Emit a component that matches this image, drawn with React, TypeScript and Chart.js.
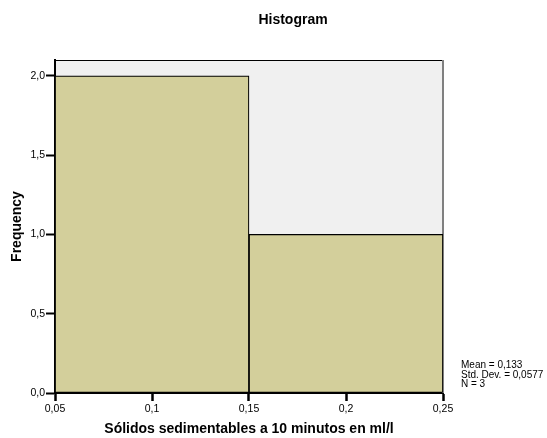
import React, { useEffect, useRef } from "react";
import { Chart, registerables } from "chart.js";

Chart.register(...registerables);

// ---- data ----
const binCenters = [0.1, 0.2];
const frequencies = [2, 1];
const xTickValues = [0.05, 0.1, 0.15, 0.2, 0.25];
const xTickLabels = ["0,05", "0,1", "0,15", "0,2", "0,25"];
const yTickValues = [0, 0.5, 1, 1.5, 2];
const yTickLabels = ["0,0", "0,5", "1,0", "1,5", "2,0"];
const chartTitle = "Histogram";
const xTitle = "Sólidos sedimentables a 10 minutos en ml/l";
const yTitle = "Frequency";
const statsLines = ["Mean = 0,133", "Std. Dev. = 0,0577", "N = 3"];

const FONT = "'Liberation Sans', Arial, Helvetica, sans-serif";

const decorPlugin = {
  id: "decor",
  beforeDraw(chart: any) {
    const { ctx, chartArea } = chart;
    ctx.save();
    ctx.fillStyle = "#F0F0F0";
    ctx.fillRect(chartArea.left, chartArea.top, chartArea.right - chartArea.left, chartArea.bottom - chartArea.top);
    ctx.restore();
  },
  beforeDatasetsDraw(chart: any) {
    const { ctx, chartArea } = chart;
    ctx.save();
    ctx.strokeStyle = "#000";
    ctx.lineWidth = 1;
    ctx.beginPath();
    ctx.moveTo(chartArea.left, chartArea.top + 0.5);
    ctx.lineTo(chartArea.right, chartArea.top + 0.5);
    ctx.stroke();
    ctx.strokeStyle = "#808080";
    ctx.lineWidth = 2;
    ctx.beginPath();
    ctx.moveTo(chartArea.right, chartArea.top);
    ctx.lineTo(chartArea.right, chartArea.bottom);
    ctx.stroke();
    ctx.restore();
  },
  afterDraw(chart: any) {
    const { ctx } = chart;
    ctx.save();
    ctx.fillStyle = "#000";
    ctx.textAlign = "center";
    ctx.textBaseline = "middle";
    ctx.font = `bold 14px ${FONT}`;
    ctx.fillText(chartTitle, 293, 20);
    ctx.textAlign = "left";
    ctx.font = `10px ${FONT}`;
    statsLines.forEach((l, i) => ctx.fillText(l, 461, 365.5 + i * 9.5));
    ctx.restore();
  },
};

export default function App() {
  const ref = useRef<HTMLCanvasElement>(null);
  useEffect(() => {
    if (!ref.current) return;
    const chart = new Chart(ref.current, {
      type: "bar",
      data: {
        datasets: [
          {
            data: binCenters.map((x, i) => ({ x, y: frequencies[i] })),
            backgroundColor: "#D3CF9B",
            borderColor: "#000",
            borderWidth: 1.2,
            borderSkipped: false,
            barPercentage: 1,
            categoryPercentage: 1,
            xAxisID: "x",
          },
        ],
      },
      options: {
        responsive: false,
        animation: false,
        devicePixelRatio: 1,
        layout: { padding: { left: 0, right: 104, top: 60, bottom: 0 } },
        plugins: { legend: { display: false }, tooltip: { enabled: false }, title: { display: false } },
        scales: {
          x: {
            type: "linear",
            display: false,
            min: 0.05,
            max: 0.25,
            offset: false,
            grid: { offset: false },
            afterBuildTicks: (s: any) => {
              s.ticks = [];
            },
          },
          xTicks: {
            type: "linear",
            position: "bottom",
            min: 0.05,
            max: 0.25,
            offset: false,
            afterBuildTicks: (s: any) => {
              s.ticks = xTickValues.map((v) => ({ value: v }));
            },
            afterFit: (s: any) => {
              s.height = 45;
            },
            ticks: {
              autoSkip: false,
              maxRotation: 0,
              padding: 2,
              color: "#000",
              font: { family: FONT, size: 10.5 },
              callback: (_v: any, i: number) => xTickLabels[i],
            },
            grid: { display: true, drawOnChartArea: false, tickLength: 8, tickWidth: 2.5, tickColor: "#000", offset: false },
            border: { display: true, color: "#000", width: 2 },
            title: {
              display: true,
              text: xTitle,
              color: "#000",
              font: { family: FONT, size: 14, weight: "bold" },
              padding: { top: 0, bottom: 0 },
            },
          },
          y: {
            type: "linear",
            min: 0,
            max: 2.1,
            afterBuildTicks: (s: any) => {
              s.ticks = yTickValues.map((v) => ({ value: v }));
            },
            afterFit: (s: any) => {
              s.width = 55;
            },
            ticks: {
              padding: 1,
              color: "#000",
              font: { family: FONT, size: 10.5 },
              callback: (_v: any, i: number) => yTickLabels[i],
            },
            grid: { display: true, drawOnChartArea: false, tickLength: 9, tickWidth: 2, tickColor: "#000" },
            border: { display: true, color: "#000", width: 2 },
            title: {
              display: true,
              text: yTitle,
              color: "#000",
              font: { family: FONT, size: 14, weight: "bold" },
              padding: { top: 9, bottom: 0 },
            },
          },
        },
      } as any,
      plugins: [decorPlugin],
    });
    return () => chart.destroy();
  }, []);
  return (
    <div style={{ position: "fixed", left: 0, top: 0, width: 547, height: 438, background: "#fff" }}>
      <canvas ref={ref} width={547} height={438} style={{ width: 547, height: 438 }} />
    </div>
  );
}
